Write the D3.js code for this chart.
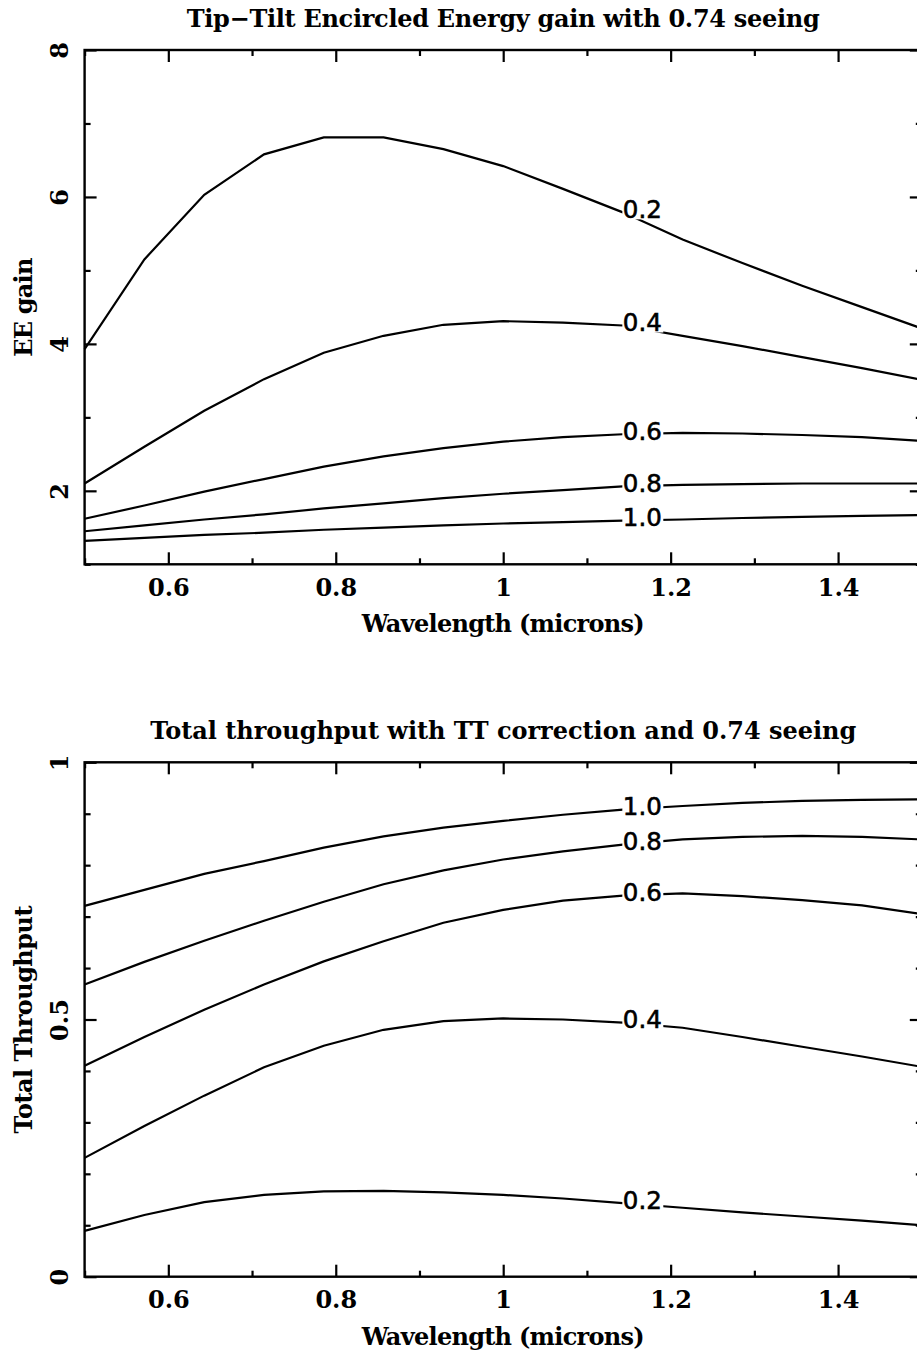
<!DOCTYPE html>
<html>
  <head>
    <title>Tip-Tilt EE gain and throughput</title>
    <style>
    body {
        margin: 0px;
        overflow: hidden;
        background: white;
    }

    .serif {
        font-family: "DejaVu Serif", serif;
        font-weight: bold;
        fill: black;
    }

    .tick text {
        font-family: "DejaVu Serif", serif;
        font-weight: bold;
        font-size: 24px;
        fill: black;
    }

    .tick line {
        stroke: black;
        stroke-width: 2.2;
    }

    .curve-label {
        font-family: "DejaVu Sans", sans-serif;
        font-size: 24.5px;
        fill: black;
        stroke: black;
        stroke-width: 0.6;
    }
    </style>
    <script src="https://d3js.org/d3.v7.min.js"></script>
  </head>
  <body>

    <svg width="917" height="1355"></svg>

    <script>
        //wavelength grid (microns)
        const wavelengths = [0.5, 0.5714, 0.6429, 0.7143, 0.7857, 0.8571, 0.9286, 1.0,
                             1.0714, 1.1429, 1.2143, 1.2857, 1.3571, 1.4286, 1.5];

        //curve labels, one per tip-tilt case
        const caseLabels = ['0.2', '0.4', '0.6', '0.8', '1.0'];

        //EE gain, top panel
        const gain02 = [3.93, 5.15, 6.03, 6.58, 6.81, 6.81, 6.65, 6.42, 6.11, 5.79, 5.42, 5.10, 4.79, 4.50, 4.21];
        const gain04 = [2.10, 2.60, 3.09, 3.52, 3.88, 4.11, 4.26, 4.31, 4.29, 4.25, 4.11, 3.97, 3.82, 3.67, 3.51];
        const gain06 = [1.62, 1.80, 1.99, 2.16, 2.33, 2.47, 2.58, 2.67, 2.73, 2.77, 2.79, 2.78, 2.76, 2.73, 2.68];
        const gain08 = [1.45, 1.53, 1.61, 1.68, 1.76, 1.83, 1.90, 1.96, 2.01, 2.06, 2.08, 2.09, 2.10, 2.10, 2.10];
        const gain10 = [1.32, 1.36, 1.40, 1.43, 1.47, 1.50, 1.53, 1.555, 1.575, 1.595, 1.61, 1.63, 1.645, 1.66, 1.67];

        //total throughput, bottom panel
        const thr02 = [0.089, 0.120, 0.145, 0.159, 0.166, 0.167, 0.164, 0.159, 0.152, 0.143, 0.134, 0.125, 0.117, 0.109, 0.100];
        const thr04 = [0.231, 0.293, 0.352, 0.407, 0.449, 0.480, 0.497, 0.502, 0.500, 0.494, 0.484, 0.466, 0.447, 0.428, 0.408];
        const thr06 = [0.410, 0.466, 0.519, 0.568, 0.613, 0.652, 0.688, 0.713, 0.731, 0.741, 0.745, 0.740, 0.732, 0.722, 0.705];
        const thr08 = [0.568, 0.612, 0.653, 0.692, 0.729, 0.763, 0.790, 0.811, 0.827, 0.840, 0.850, 0.855, 0.857, 0.855, 0.850];
        const thr10 = [0.721, 0.752, 0.783, 0.808, 0.834, 0.856, 0.873, 0.886, 0.898, 0.908, 0.915, 0.921, 0.925, 0.927, 0.928];

        //ticks
        const xMajor = [0.6, 0.8, 1.0, 1.2, 1.4];
        const xMinor = [0.5, 0.7, 0.9, 1.1, 1.3, 1.5];
        const gainMajor = [2, 4, 6, 8];
        const gainMinor = [1, 3, 5, 7];
        const thrMajor = [0, 0.5, 1];
        const thrMinor = [0.1, 0.2, 0.3, 0.4, 0.6, 0.7, 0.8, 0.9];

        //index of the point where the curve labels start
        const labelAt = 9;

        const svg = d3.select('svg');

        //frame edges (right edge falls just outside the window, like the original)
        const frameLeft = 84.6;
        const frameRight = 921.8;

        const xScale = d3.scaleLinear()
            .domain([0.5, 1.5])
            .range([frameLeft, frameRight]);

        const panels = [
            {
                title: 'Tip\u2212Tilt Encircled Energy gain with 0.74 seeing',
                titleLen: 633,
                yLabel: 'EE gain',
                yLabelLen: 99,
                top: 50, bottom: 564.3,
                domain: [1, 8],
                major: gainMajor, minor: gainMinor,
                series: [gain02, gain04, gain06, gain08, gain10]
            },
            {
                title: 'Total throughput with TT correction and 0.74 seeing',
                titleLen: 706,
                yLabel: 'Total Throughput',
                yLabelLen: 228,
                top: 762.3, bottom: 1276.7,
                domain: [0, 1],
                major: thrMajor, minor: thrMinor,
                series: [thr02, thr04, thr06, thr08, thr10]
            }
        ];

        const fmt = d => d3.format('~g')(d);
        const defs = svg.append('defs');

        panels.forEach((p, pi) => {
            const yScale = d3.scaleLinear()
                .domain(p.domain)
                .range([p.bottom, p.top]);

            const g = svg.append('g');

            //ticks on all four sides, pointing inwards
            const xB = g.append('g').attr('transform', `translate(0,${p.bottom})`);
            xB.call(d3.axisBottom(xScale).tickValues(xMajor).tickSize(-12).tickPadding(14.5).tickFormat(fmt));
            xB.append('g').call(d3.axisBottom(xScale).tickValues(xMinor).tickSize(-6).tickFormat(''));

            const xT = g.append('g').attr('transform', `translate(0,${p.top})`);
            xT.call(d3.axisTop(xScale).tickValues(xMajor).tickSize(-12).tickFormat(''));
            xT.append('g').call(d3.axisTop(xScale).tickValues(xMinor).tickSize(-6).tickFormat(''));

            const yL = g.append('g').attr('transform', `translate(${frameLeft},0)`);
            yL.call(d3.axisLeft(yScale).tickValues(p.major).tickSize(-12).tickFormat(fmt));
            yL.append('g').call(d3.axisLeft(yScale).tickValues(p.minor).tickSize(-6).tickFormat(''));
            //left labels run along the axis
            yL.selectAll('.tick text')
                .attr('x', 0)
                .attr('dy', 0)
                .attr('text-anchor', 'middle')
                .attr('transform', 'translate(-16.6,0) rotate(-90)');

            const yR = g.append('g').attr('transform', `translate(${frameRight},0)`);
            yR.call(d3.axisRight(yScale).tickValues(p.major).tickSize(-12).tickFormat(''));
            yR.append('g').call(d3.axisRight(yScale).tickValues(p.minor).tickSize(-6).tickFormat(''));

            g.selectAll('.domain').remove();

            //frame
            g.append('rect')
                .attr('x', frameLeft)
                .attr('y', p.top)
                .attr('width', frameRight - frameLeft)
                .attr('height', p.bottom - p.top)
                .attr('fill', 'none')
                .attr('stroke', 'black')
                .attr('stroke-width', 2.4);

            //titles
            g.append('text')
                .attr('class', 'serif')
                .attr('x', (frameLeft + frameRight) / 2)
                .attr('y', p.top - 23)
                .attr('text-anchor', 'middle')
                .attr('font-size', '24px')
                .attr('textLength', p.titleLen)
                .attr('lengthAdjust', 'spacing')
                .text(p.title);

            g.append('text')
                .attr('class', 'serif')
                .attr('x', (frameLeft + frameRight) / 2)
                .attr('y', p.bottom + 68)
                .attr('text-anchor', 'middle')
                .attr('font-size', '24px')
                .attr('textLength', 283)
                .attr('lengthAdjust', 'spacing')
                .text('Wavelength (microns)');

            g.append('text')
                .attr('class', 'serif')
                .attr('transform', `translate(32,${(p.top + p.bottom) / 2}) rotate(-90)`)
                .attr('text-anchor', 'middle')
                .attr('font-size', '24px')
                .attr('textLength', p.yLabelLen)
                .attr('lengthAdjust', 'spacing')
                .text(p.yLabel);

            //curves with labels breaking the line
            const line = d3.line()
                .x((d, i) => xScale(wavelengths[i]))
                .y(d => yScale(d));

            p.series.forEach((vals, si) => {
                const lx = xScale(wavelengths[labelAt]);
                const ly = yScale(vals[labelAt]);

                const lab = g.append('text')
                    .attr('class', 'curve-label')
                    .attr('x', lx)
                    .attr('y', ly)
                    .attr('dy', '0.23em')
                    .text(caseLabels[si]);
                const w = lab.node().getComputedTextLength();

                const maskId = `gap-${pi}-${si}`;
                const mask = defs.append('mask')
                    .attr('id', maskId)
                    .attr('maskUnits', 'userSpaceOnUse')
                    .attr('x', 0).attr('y', 0)
                    .attr('width', 917).attr('height', 1355);
                mask.append('rect')
                    .attr('x', 0).attr('y', 0)
                    .attr('width', 917).attr('height', 1355)
                    .attr('fill', 'white');
                mask.append('rect')
                    .attr('x', lx - 0.5)
                    .attr('y', ly - 13)
                    .attr('width', w + 2)
                    .attr('height', 20)
                    .attr('fill', 'black');

                g.insert('path', '.curve-label')
                    .attr('d', line(vals))
                    .attr('fill', 'none')
                    .attr('stroke', 'black')
                    .attr('stroke-width', 2.2)
                    .attr('mask', `url(#${maskId})`);
            });
        });
    </script>
  </body>
</html>
